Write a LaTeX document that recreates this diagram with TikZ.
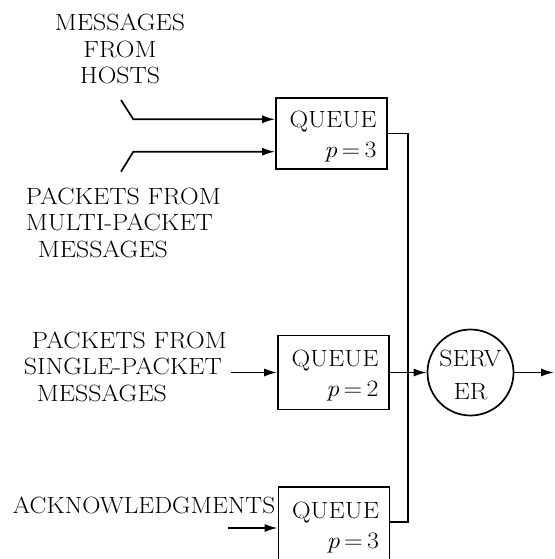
\documentclass[tikz,border=0pt]{standalone}
\usetikzlibrary{arrows.meta,calc}
\newcommand{\Wd}[1]{\scalebox{1.1}[1]{#1}}
\begin{document}
\begin{tikzpicture}[x=1pt,y=-1pt,
  line width=1.7pt,
  txt/.style={font=\fontsize{23.5}{26.5}\selectfont, inner sep=0pt},
  qbox/.style={draw, line width=1.7pt, minimum width=111pt, inner xsep=0pt, inner ysep=0pt,
     text width=90pt, align=right, font=\fontsize{23.5}{30}\selectfont},
  srv/.style={draw, circle, line width=1.7pt, minimum size=86pt, inner sep=0pt, align=center,
     font=\fontsize{23.5}{33}\selectfont},
  arr/.style={-{Latex[length=13pt,width=8pt]}}]
\useasboundingbox (0,0) rectangle (554,559);
\clip (0,0) rectangle (554,559);

% queues
\node[qbox, minimum height=71pt] (q1) at (331.5,133.5) {\rule{0pt}{22pt}\Wd{QUEUE}\\\Wd{\textit{p}\,=\,3}};
\node[qbox, minimum height=74pt] (q2) at (333.5,372.5) {\rule{0pt}{22pt}\Wd{QUEUE}\\\Wd{\textit{p}\,=\,2}};
\node[qbox, minimum height=76pt] (q3) at (334,525) {\rule{0pt}{22pt}\Wd{QUEUE}\\\Wd{\textit{p}\,=\,3}};

% server
\node[srv] (srv) at (470.5,372.5) {\rule{0pt}{22pt}\Wd{SERV}\\\Wd{ER}};

% labels (anchored at the baseline of the last line)
\node[txt, align=center, anchor=base] (lh) at (120,84) {\Wd{MESSAGES}\\\Wd{FROM}\\\Wd{HOSTS}};
\node[txt, align=left, anchor=base west] (lm) at (25,257) {\Wd{PACKETS FROM}\\\Wd{MULTI-PACKET}\\\hspace*{12pt}\Wd{MESSAGES}};
\node[txt, align=left, anchor=base west] (ls) at (23,401) {\hspace*{8pt}\Wd{PACKETS FROM}\\\Wd{SINGLE-PACKET}\\\hspace*{13pt}\Wd{MESSAGES}};
\node[txt, anchor=base west] (la) at (12,513) {\scalebox{1.075}[1]{ACKNOWLEDGMENTS}};

% inputs to top queue
\coordinate (h1) at (121,100);
\coordinate (h1k) at (133.3,119.3);
\coordinate (h2) at (121,171.7);
\coordinate (h2k) at (133.3,151.7);
\draw[arr] (h1) -- (h1k) -- (h1k -| q1.west);
\draw[arr] (h2) -- (h2k) -- (h2k -| q1.west);

% input to middle queue
\coordinate (s1) at (231,372.5);
\draw[arr] (s1) -- (q2.west);

% input to bottom queue
\coordinate (a1) at (228,528);
\draw[arr] (a1) -- (a1 -| q3.west);

% bus
\coordinate (b1) at (408,133.5);
\coordinate (b3) at (408,522);
\draw (q1.east) -- (b1) -- (b3) -- (b3 -| q3.east);

% to server and out
\draw[arr] (q2.east) -- (srv.west);
\coordinate (out) at (554,372.5);
\draw[arr] (srv.east) -- (out);
\end{tikzpicture}
\end{document}
